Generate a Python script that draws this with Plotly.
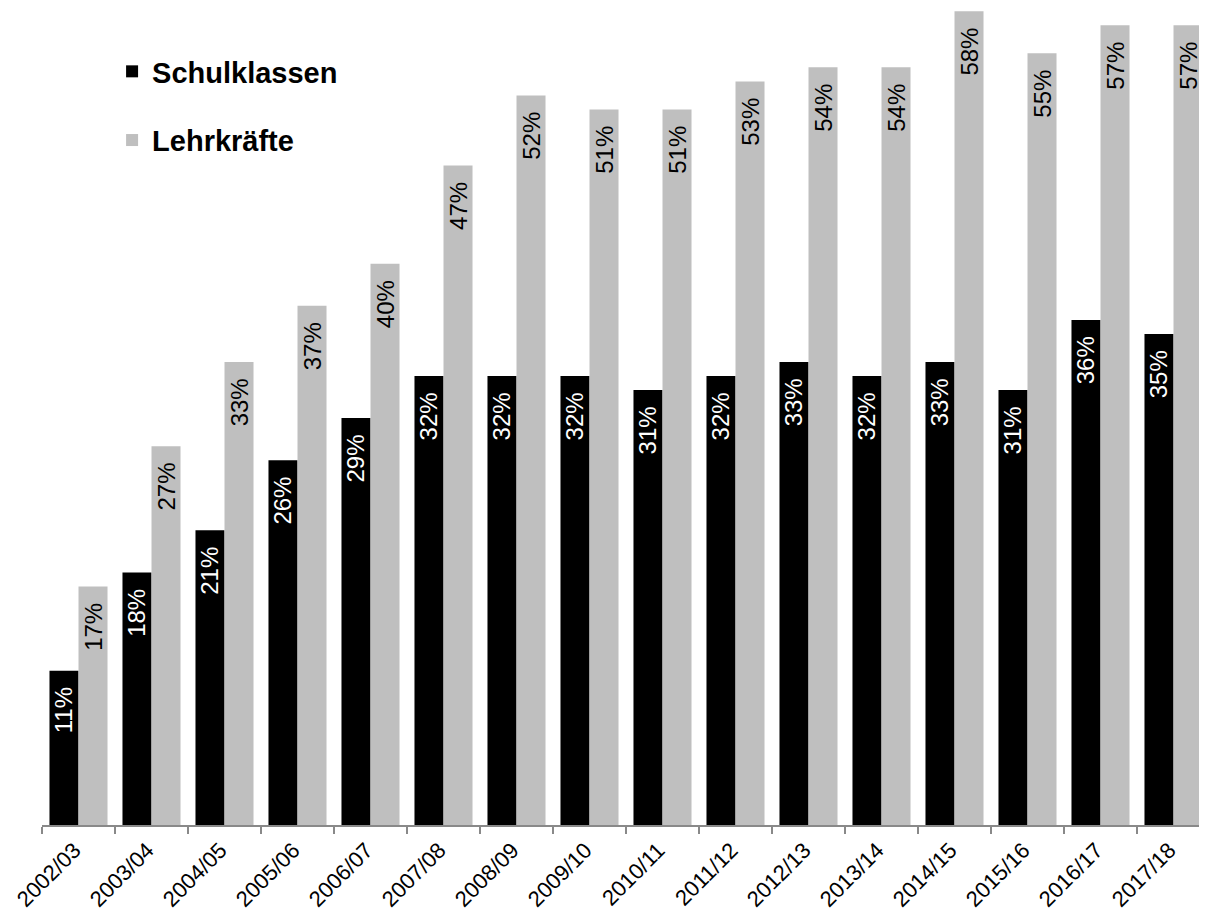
import plotly.graph_objects as go

years = ["2002/03", "2003/04", "2004/05", "2005/06", "2006/07", "2007/08", "2008/09",
         "2009/10", "2010/11", "2011/12", "2012/13", "2013/14", "2014/15", "2015/16",
         "2016/17", "2017/18"]
schulklassen = [11, 18, 21, 26, 29, 32, 32, 32, 31, 32, 33, 32, 33, 31, 36, 35]
lehrkraefte = [17, 27, 33, 37, 40, 47, 52, 51, 51, 53, 54, 54, 58, 55, 57, 57]

FONT = "Arial, Liberation Sans, sans-serif"
pad = "\u00a0\u00a0"

fig = go.Figure()
fig.add_trace(go.Bar(
    x=years, y=schulklassen, name="Schulklassen",
    marker=dict(color="#000000", line=dict(width=0)),
    text=[f"{v}%{pad}" for v in schulklassen],
    textposition="inside", insidetextanchor="end", textangle=-90,
    insidetextfont=dict(color="white", size=24, family=FONT),
    constraintext="none", legendgroup="a",
))
fig.add_trace(go.Bar(
    x=years, y=lehrkraefte, name="Lehrkräfte",
    marker=dict(color="#BFBFBF", line=dict(width=0)),
    text=[f"{v}%{pad}" for v in lehrkraefte],
    textposition="inside", insidetextanchor="end", textangle=-90,
    insidetextfont=dict(color="black", size=24, family=FONT),
    constraintext="none", legendgroup="b",
))

fig.update_layout(
    width=1207, height=919,
    margin=dict(l=34, r=5, t=0, b=102, autoexpand=False),
    paper_bgcolor="white", plot_bgcolor="white",
    barmode="group", bargap=0.205, bargroupgap=0,
    font=dict(family=FONT, color="black"),
    showlegend=True,
    legend=dict(x=0.06, y=0.9535, xanchor="left", yanchor="top",
                font=dict(size=29, family=FONT, weight="bold"),
                traceorder="grouped", tracegroupgap=28,
                bgcolor="rgba(0,0,0,0)"),
    xaxis=dict(type="category", range=[-0.5, 15.5], tickson="boundaries",
               ticks="outside", ticklen=7, tickcolor="#898989", tickwidth=1.5,
               showline=True, linecolor="#898989", linewidth=1.5,
               tickangle=-45, tickfont=dict(size=22, family=FONT, color="black"),
               ticklabelshift=-4, ticklabelstandoff=2,
               showgrid=False, zeroline=False, automargin=False),
    yaxis=dict(range=[0, 58.23], visible=False, showgrid=False, zeroline=False,
               automargin=False),
)

fig.write_html("out.html")
